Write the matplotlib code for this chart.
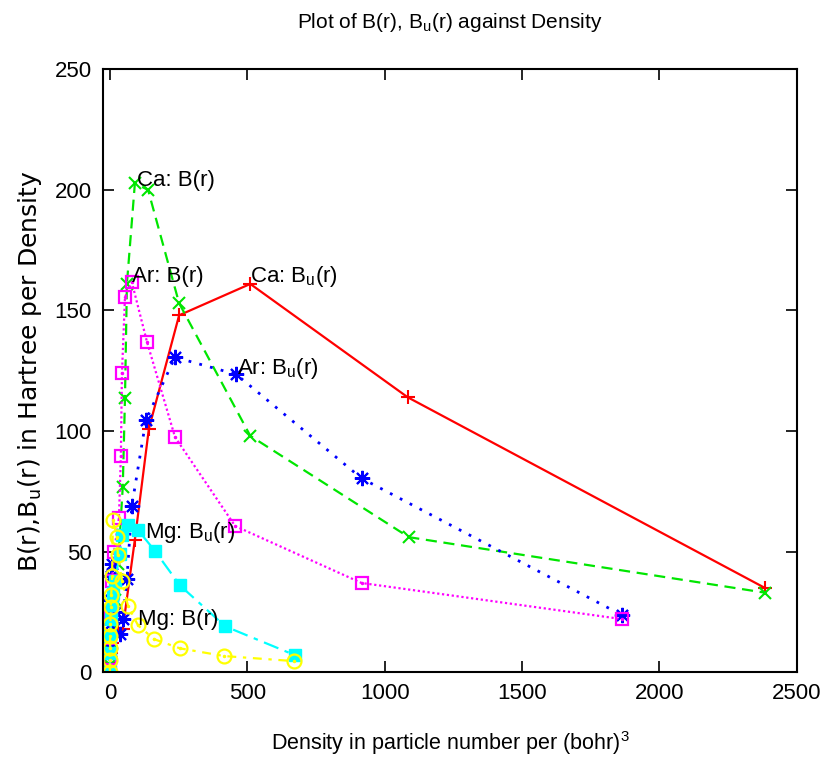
import matplotlib.pyplot as plt
import numpy as np

plt.rcParams['font.family'] = ['Liberation Sans', 'DejaVu Sans']
plt.rcParams['mathtext.default'] = 'regular'

# Ca: B_u(r)
ca_bu_x = [0.2, 1, 3, 7, 15, 30, 47, 91, 142, 252, 511, 1084, 2383]
ca_bu_y = [0, 4, 8, 12, 15, 17, 18, 55, 101, 148, 161, 114, 35]
# Ca: B(r)
ca_b_x = [0.5, 1.5, 4, 10, 20, 30, 47, 55, 62, 91, 139, 252, 511, 1088, 2383]
ca_b_y = [0, 3, 9, 18, 30, 45, 77, 113.6, 161, 202.7, 200, 153, 98, 56, 33]
# Ar: B_u(r)
ar_bu_x = [0.2, 0.6, 1.5, 3, 5, 8, 20, 36, 47, 62, 80, 131, 237, 460, 916, 1865]
ar_bu_y = [0, 10, 20, 30, 40, 45, 25, 16, 22, 38.6, 69, 104.5, 130.6, 123.5, 80.4, 23.6]
# Ar: B(r)
ar_b_x = [0.3, 1, 2, 4, 8, 15, 33, 40, 44, 55, 80, 135, 237, 456, 916, 1865]
ar_b_y = [0, 6, 14, 25, 38, 50, 64, 89.5, 124, 155.5, 161.7, 137, 97.5, 60.6, 37, 22]
# Mg: B_u(r)
mg_bu_x = [0.2, 0.8, 2, 4, 7, 11, 18, 37, 44, 66, 102, 164, 255, 420, 675]
mg_bu_y = [0, 8, 15, 22, 28, 33, 38, 49, 57, 61, 59, 50.3, 36, 19, 7]
# Mg: B(r)
mg_b_x = [0.1, 0.3, 0.6, 1, 2, 3, 5, 8, 11, 26, 29, 44, 66, 102, 161, 255, 416, 670]
mg_b_y = [0, 5, 10, 15, 20, 27, 32, 40, 63, 56, 48.5, 38, 27.5, 19.5, 13.7, 9.9, 6.7, 4.6]

labels = [r'Ca: B(r)', r'Ar: B(r)', r'Ca: B$_u$(r)', r'Ar: B$_u$(r)', r'Mg: B$_u$(r)', r'Mg: B(r)']
label_pos = [(100, 204), (80, 164), (511, 164), (462, 126), (128, 58), (102, 22)]

fig = plt.figure(figsize=(8.24, 7.7), dpi=100)
ax = fig.add_axes([0.125, 0.127, 0.842, 0.783])

ax.plot(ca_bu_x, ca_bu_y, color='#ff0000', lw=1.6, ls='-', marker='+', ms=10, mew=1.5)
ax.plot(ca_b_x, ca_b_y, color='#00e600', lw=1.6, ls=(0, (5, 3)), marker='x', ms=9, mew=1.5)
ax.plot(ar_bu_x, ar_bu_y, color='#0000ff', lw=2, ls=(0, (1, 3)), marker=(8, 2, 0), ms=11, mew=1.5)
ax.plot(ar_b_x, ar_b_y, color='#ff00ff', lw=1.6, ls=(0, (1, 1.2)), marker='s', ms=9,
        mfc='none', mew=1.6)
ax.plot(ar_b_x, ar_b_y, ls='none', color='#ff00ff', marker='.', ms=3)
ax.plot(mg_bu_x, mg_bu_y, color='#00ffff', lw=1.6, ls=(0, (7, 3, 2, 3)), marker='s', ms=8.5)
ax.plot(mg_b_x, mg_b_y, color='#ffff00', lw=1.6, ls=(0, (4, 3, 1.5, 3)), marker='o', ms=10,
        mfc='none', mew=1.6)
ax.plot(mg_b_x, mg_b_y, ls='none', color='#ffff00', marker='.', ms=3)

for txt, (lx, ly) in zip(labels, label_pos):
    ax.text(lx, ly, txt, fontsize=16, ha='left', va='center')

ax.set_xlim(-25, 2500)
ax.set_ylim(0, 250)
ax.set_xticks(np.arange(0, 2501, 500))
ax.set_yticks(np.arange(0, 251, 50))
ax.tick_params(direction='in', top=True, right=True, length=8, width=1.2,
               labelsize=16, pad=8)
for s in ax.spines.values():
    s.set_linewidth(1.5)

ax.set_title(r'Plot of B(r), B$_u$(r) against Density', fontsize=15, pad=30)
ax.set_xlabel(r'Density in particle number per (bohr)$^3$', fontsize=15.5, labelpad=18)
ax.set_ylabel(r'B(r),B$_u$(r) in Hartree per Density', fontsize=18, family='DejaVu Sans',
              labelpad=8)

fig.savefig('out.png', dpi=100)
